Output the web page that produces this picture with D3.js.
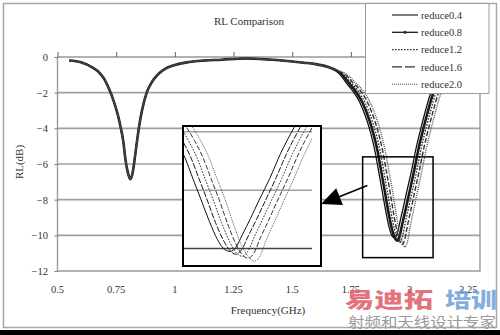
<!DOCTYPE html>
<html><head><meta charset="utf-8">
<script src="https://cdn.jsdelivr.net/npm/d3@7"></script>
<style>body{margin:0;background:#fff}svg{display:block}</style>
</head><body><svg id="c" width="500" height="335"></svg>
<script>
// ---------- data ----------
const seriesNames = ["reduce0.4","reduce0.8","reduce1.2","reduce1.6","reduce2.0"];
const xTicks = [0.5,0.75,1,1.25,1.5,1.75,2,2.25];
const yTicks = [0,-2,-4,-6,-8,-10,-12];
const insetGrid = [-4,-7,-10];
const zoomBox = [1.8, 2.1, -5.6, -11.25];   // freq0, freq1, rl0, rl1

// shared low-frequency part (all five curves coincide)
const baseFreq = [0.55,0.60,0.65,0.68,0.70,0.72,0.74,0.76,0.77,0.78,0.79,0.80,0.81,0.82,0.83,0.84,0.85,0.86,0.88,0.90,0.93,0.96,1.00,1.05,1.10,1.20,1.30,1.40,1.50,1.55];
const baseRL   = [-0.20,-0.30,-0.60,-0.90,-1.25,-1.80,-2.50,-3.40,-4.00,-4.70,-5.80,-6.50,-6.85,-6.50,-5.60,-4.60,-3.70,-3.00,-2.00,-1.45,-0.95,-0.65,-0.45,-0.30,-0.22,-0.15,-0.08,-0.14,-0.25,-0.32];

// second resonance, per series
const dipFreq04 = [1.60,1.65,1.685,1.705,1.73,1.758,1.788,1.818,1.838,1.853,1.868,1.883,1.898,1.913,1.926,1.936,1.946,1.958,1.973,1.988,2.008,2.028,2.048,2.068,2.088,2.118,2.158,2.208,2.258];
const dipRL04   = [-0.40,-0.55,-0.75,-1.00,-1.45,-1.90,-2.55,-3.55,-4.45,-5.30,-6.40,-7.50,-8.60,-9.55,-10.05,-10.15,-9.95,-9.30,-8.45,-7.55,-6.40,-5.10,-4.00,-3.00,-2.10,-1.50,-1.10,-0.80,-0.60];
const dipFreq08 = [1.60,1.65,1.687,1.713,1.741,1.769,1.799,1.829,1.849,1.864,1.879,1.894,1.909,1.924,1.937,1.947,1.957,1.969,1.984,1.999,2.019,2.039,2.059,2.079,2.099,2.129,2.169,2.219,2.269];
const dipRL08   = [-0.40,-0.55,-0.75,-1.00,-1.45,-1.90,-2.55,-3.55,-4.45,-5.30,-6.40,-7.50,-8.65,-9.60,-10.15,-10.30,-10.05,-9.35,-8.50,-7.60,-6.40,-5.10,-4.00,-3.00,-2.10,-1.50,-1.10,-0.80,-0.60];
const dipFreq12 = [1.60,1.65,1.69,1.72,1.75,1.78,1.81,1.84,1.86,1.875,1.89,1.905,1.92,1.935,1.948,1.958,1.968,1.98,1.995,2.01,2.03,2.05,2.07,2.09,2.11,2.14,2.18,2.23,2.28];
const dipRL12   = [-0.40,-0.55,-0.75,-1.00,-1.45,-1.90,-2.55,-3.55,-4.45,-5.30,-6.40,-7.50,-8.65,-9.65,-10.25,-10.40,-10.15,-9.40,-8.50,-7.60,-6.40,-5.10,-4.00,-3.00,-2.10,-1.50,-1.10,-0.80,-0.60];
const dipFreq16 = [1.60,1.65,1.693,1.727,1.759,1.791,1.821,1.851,1.871,1.886,1.901,1.916,1.931,1.946,1.959,1.969,1.979,1.991,2.006,2.021,2.041,2.061,2.081,2.101,2.121,2.151,2.191,2.241,2.291];
const dipRL16   = [-0.40,-0.55,-0.75,-1.00,-1.45,-1.90,-2.55,-3.55,-4.45,-5.30,-6.40,-7.50,-8.70,-9.75,-10.35,-10.50,-10.25,-9.45,-8.55,-7.60,-6.40,-5.10,-4.00,-3.00,-2.10,-1.50,-1.10,-0.80,-0.60];
const dipFreq20 = [1.60,1.65,1.695,1.735,1.77,1.802,1.832,1.862,1.882,1.897,1.912,1.927,1.942,1.957,1.970,1.980,1.990,2.002,2.017,2.032,2.052,2.072,2.092,2.112,2.132,2.162,2.202,2.252,2.30];
const dipRL20   = [-0.40,-0.55,-0.75,-1.00,-1.45,-1.90,-2.55,-3.55,-4.45,-5.30,-6.40,-7.50,-8.75,-9.85,-10.45,-10.65,-10.40,-9.55,-8.60,-7.65,-6.40,-5.10,-4.00,-3.00,-2.10,-1.50,-1.10,-0.80,-0.60];

// ---------- styles / layout ----------
const styles = [
  {color:"#111", width:1.3, dash:null},
  {color:"#1a1a1a", width:2.6, dash:null},
  {color:"#333", width:1.4, dash:"1.6,1.4"},
  {color:"#333", width:1.4, dash:"5,2"},
  {color:"#555", width:1.4, dash:"1,1"}
];
const W = 500, H = 335;
const plot = {l:57.5, r:480, t:57, b:271};
const inset = {l:183, r:321, t:126, b:266, contentR:312};
const serif = "'Liberation Serif','Times New Roman',serif";

const dips = [[dipFreq04,dipRL04],[dipFreq08,dipRL08],[dipFreq12,dipRL12],[dipFreq16,dipRL16],[dipFreq20,dipRL20]];
const series = seriesNames.map((name,i)=>{
  const pts = baseFreq.map((f,j)=>({f, v:baseRL[j]}));
  dips[i][0].forEach((f,j)=>pts.push({f, v:dips[i][1][j]}));
  return {name, pts, style:styles[i]};
});

const svg = d3.select("#c");
svg.append("rect").attr("width",W).attr("height",H).attr("fill","#fff");

// outer frame
svg.append("rect").attr("x",3.5).attr("y",3.5).attr("width",493).attr("height",324)
  .attr("fill","none").attr("stroke","#a8a8a8").attr("stroke-width",1.5);

const x = d3.scaleLinear().domain([0.5,2.3]).range([plot.l,plot.r]);
const y = d3.scaleLinear().domain([0,-12]).range([plot.t,plot.b]);

// gridlines
svg.append("g").selectAll("line").data(yTicks.filter(v=>v!==0 && v!==-12)).join("line")
  .attr("x1",plot.l).attr("x2",plot.r).attr("y1",d=>y(d)).attr("y2",d=>y(d))
  .attr("stroke","#a0a0a0").attr("stroke-width",1.6);

// plot-area frame (left, right, bottom)
svg.append("path").attr("d",`M${plot.l},${plot.t}V${plot.b}H${plot.r}V${plot.t}`)
  .attr("fill","none").attr("stroke","#9a9a9a").attr("stroke-width",1.4);

// y axis ticks + labels
const yAxis = d3.axisLeft(y).tickValues(yTicks).tickSize(3).tickFormat(d3.format("d"));
const gy = svg.append("g").attr("transform",`translate(${plot.l},0)`).call(yAxis);
gy.select(".domain").remove();
gy.selectAll("line").attr("stroke","#777");
gy.selectAll("text").attr("x",-9.5).attr("font-family",serif).attr("font-size",10.5).attr("fill","#333");

// x axis at rl=0 (top) with upward ticks
const xAxis = d3.axisTop(x).tickValues(xTicks).tickSize(5).tickFormat(()=> "");
const gx = svg.append("g").attr("transform",`translate(0,${y(0)})`).call(xAxis);
gx.select(".domain").attr("stroke","#666").attr("stroke-width",1.2).attr("d",`M${plot.l},0H${plot.r}`);
gx.selectAll("line").attr("stroke","#666");
svg.append("g").selectAll("text").data(xTicks).join("text")
  .attr("x",d=>x(d)).attr("y",293).attr("text-anchor","middle")
  .attr("font-family",serif).attr("font-size",10.5).attr("fill","#333").text(d=>String(d));

// titles
svg.append("text").attr("x",249).attr("y",25).attr("text-anchor","middle")
  .attr("font-family",serif).attr("font-size",11).attr("fill","#333").text("RL Comparison");
svg.append("text").attr("x",268).attr("y",314).attr("text-anchor","middle")
  .attr("font-family",serif).attr("font-size",11).attr("fill","#333").text("Frequency(GHz)");
svg.append("text").attr("transform","translate(23,162) rotate(-90)").attr("text-anchor","middle")
  .attr("font-family",serif).attr("font-size",11).attr("fill","#333").text("RL(dB)");

// curves
const line = d3.line().x(d=>x(d.f)).y(d=>y(d.v)).curve(d3.curveMonotoneX);
svg.append("defs").append("clipPath").attr("id","pc").append("rect")
  .attr("x",plot.l).attr("y",plot.t-3).attr("width",plot.r-plot.l).attr("height",plot.b-plot.t+3);
svg.append("g").attr("clip-path","url(#pc)").selectAll("path").data(series).join("path")
  .attr("d",d=>line(d.pts)).attr("fill","none")
  .attr("stroke",d=>d.style.color).attr("stroke-width",d=>d.style.width)
  .attr("stroke-dasharray",d=>d.style.dash).attr("stroke-linejoin","round");

// zoom box in main chart
svg.append("rect").attr("x",x(zoomBox[0])).attr("y",y(zoomBox[2]))
  .attr("width",x(zoomBox[1])-x(zoomBox[0])).attr("height",y(zoomBox[3])-y(zoomBox[2]))
  .attr("fill","none").attr("stroke","#000").attr("stroke-width",1.5);

// inset (magnified view)
const xi = d3.scaleLinear().domain([1.85,2.085]).range([inset.l,inset.contentR]);
const yi = d3.scaleLinear().domain([-3.7,-10.9]).range([inset.t,inset.b]);
svg.append("rect").attr("x",inset.l).attr("y",inset.t).attr("width",inset.r-inset.l).attr("height",inset.b-inset.t)
  .attr("fill","#fff");
svg.select("defs").append("clipPath").attr("id","ic").append("rect")
  .attr("x",inset.l).attr("y",inset.t).attr("width",inset.contentR-inset.l).attr("height",inset.b-inset.t);
svg.append("g").selectAll("line").data(insetGrid).join("line")
  .attr("x1",inset.l).attr("x2",inset.contentR).attr("y1",d=>yi(d)).attr("y2",d=>yi(d))
  .attr("stroke",(d,i)=> i===insetGrid.length-1 ? "#444" : "#a0a0a0").attr("stroke-width",1.5);
const iline = d3.line().x(d=>xi(d.f)).y(d=>yi(d.v)).curve(d3.curveMonotoneX);
svg.append("g").attr("clip-path","url(#ic)").selectAll("path").data(series).join("path")
  .attr("d",d=>iline(d.pts.filter(p=>p.f>1.7))).attr("fill","none")
  .attr("stroke",d=>d.style.color).attr("stroke-width",1)
  .attr("stroke-dasharray",(d,i)=> i===0 ? null : (i===1 ? "6,1.5" : d.style.dash));
svg.append("rect").attr("x",inset.l).attr("y",inset.t).attr("width",inset.r-inset.l).attr("height",inset.b-inset.t)
  .attr("fill","none").attr("stroke","#000").attr("stroke-width",2);

// arrow from zoom box to inset
const a0 = [x(1.82), y(-7.2)], a1 = [inset.r, 204];
const dx = a1[0]-a0[0], dy = a1[1]-a0[1], len = Math.hypot(dx,dy);
const ux = dx/len, uy = dy/len, hl = 20, hw = 9;
const bx = a1[0]-hl*ux, by = a1[1]-hl*uy;
svg.append("line").attr("x1",a0[0]).attr("y1",a0[1]).attr("x2",bx+3*ux).attr("y2",by+3*uy)
  .attr("stroke","#000").attr("stroke-width",1.6);
svg.append("path").attr("d",`M${a1[0]},${a1[1]}L${bx-hw*uy},${by+hw*ux}L${bx+hw*uy},${by-hw*ux}Z`).attr("fill","#000");

// legend
const lg = svg.append("g");
lg.append("rect").attr("x",365.5).attr("y",3.5).attr("width",123.5).attr("height",90)
  .attr("fill","#fff").attr("stroke","#999").attr("stroke-width",1);
const ent = lg.selectAll("g.e").data(series).join("g").attr("class","e")
  .attr("transform",(d,i)=>`translate(0,${15+i*17.3})`);
ent.append("line").attr("x1",392).attr("x2",418).attr("y1",0).attr("y2",0)
  .attr("stroke",d=>d.style.color).attr("stroke-width",(d,i)=> i===1?1.3:1.1)
  .attr("stroke-dasharray",(d,i)=> i===3 ? "10,3" : d.style.dash);
ent.filter((d,i)=>i===1).append("circle").attr("cx",405).attr("cy",0).attr("r",1.5).attr("fill","#222");
ent.append("text").attr("x",421).attr("y",3.6).attr("font-family",serif).attr("font-size",10.5)
  .attr("fill","#333").text(d=>d.name);

// watermark
const cjk = "'Noto Sans CJK SC',sans-serif";
svg.append("text").attr("x",345).attr("y",307).attr("font-family",cjk).attr("font-weight","900")
  .attr("font-size",21).attr("textLength",88).attr("lengthAdjust","spacingAndGlyphs")
  .attr("fill","#e05a66").attr("fill-opacity",0.85).text("易迪拓");
svg.append("text").attr("x",445).attr("y",307).attr("font-family",cjk).attr("font-weight","900")
  .attr("font-size",21).attr("textLength",52).attr("lengthAdjust","spacingAndGlyphs")
  .attr("fill","#6f9fd8").attr("fill-opacity",0.85).text("培训");
svg.append("text").attr("x",348).attr("y",327).attr("font-family",cjk)
  .attr("font-size",14).attr("textLength",148).attr("lengthAdjust","spacingAndGlyphs")
  .attr("fill","#9a9a9a").text("射频和天线设计专家");

// black strip at the bottom of the picture
svg.append("rect").attr("x",0).attr("y",330).attr("width",W).attr("height",H-330).attr("fill","#000");
</script></body></html>
